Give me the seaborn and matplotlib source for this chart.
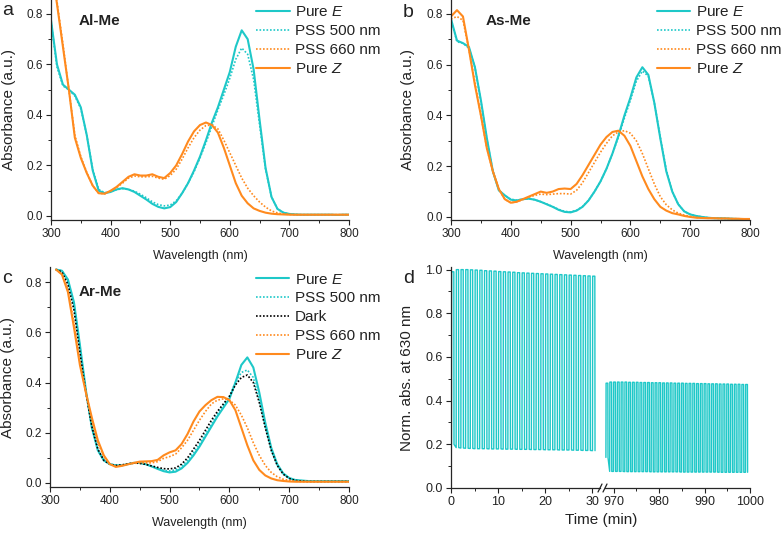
import matplotlib
matplotlib.use("Agg")
import matplotlib.pyplot as plt
from matplotlib.lines import Line2D
from matplotlib.ticker import MultipleLocator
import seaborn as sns

TEAL = "#1ec8c8"
ORANGE = "#ff8a1e"

# wavelengths (nm)
wl = list(range(300, 801, 10))
wl_c = list(range(310, 801, 10))

# ---- panel a: Al-Me ----
a_pure_e = [0.775, 0.60, 0.52, 0.50, 0.48, 0.43, 0.32, 0.18, 0.10, 0.09, 0.095,
            0.105, 0.11, 0.105, 0.095, 0.08, 0.065, 0.048, 0.036, 0.03, 0.035,
            0.055, 0.09, 0.13, 0.18, 0.235, 0.30, 0.37, 0.43, 0.50, 0.57,
            0.67, 0.735, 0.70, 0.58, 0.38, 0.19, 0.075, 0.028, 0.013, 0.008,
            0.006, 0.005, 0.005, 0.005, 0.005, 0.005, 0.005, 0.004, 0.005, 0.005]
a_pss500 = [0.77, 0.59, 0.515, 0.50, 0.475, 0.425, 0.32, 0.185, 0.105, 0.092, 0.096,
            0.104, 0.108, 0.105, 0.098, 0.086, 0.072, 0.056, 0.045, 0.04, 0.043,
            0.06, 0.09, 0.13, 0.175, 0.23, 0.29, 0.355, 0.42, 0.48, 0.545,
            0.62, 0.665, 0.64, 0.54, 0.36, 0.185, 0.075, 0.028, 0.013, 0.008,
            0.006, 0.005, 0.005, 0.005, 0.005, 0.005, 0.005, 0.004, 0.005, 0.005]
a_pss660 = [1.0, 0.85, 0.68, 0.50, 0.32, 0.235, 0.172, 0.12, 0.09, 0.088, 0.098,
            0.112, 0.13, 0.15, 0.158, 0.155, 0.155, 0.157, 0.15, 0.145, 0.16,
            0.185, 0.225, 0.27, 0.31, 0.34, 0.358, 0.36, 0.345, 0.30, 0.25,
            0.20, 0.15, 0.11, 0.08, 0.055, 0.035, 0.02, 0.012, 0.008, 0.006,
            0.005, 0.005, 0.005, 0.005, 0.005, 0.005, 0.005, 0.005, 0.005, 0.005]
a_pure_z = [1.0, 0.84, 0.67, 0.50, 0.31, 0.23, 0.17, 0.12, 0.09, 0.088, 0.10,
            0.115, 0.135, 0.155, 0.165, 0.16, 0.16, 0.165, 0.155, 0.15, 0.17,
            0.20, 0.245, 0.295, 0.335, 0.36, 0.37, 0.36, 0.33, 0.27, 0.20,
            0.13, 0.08, 0.05, 0.03, 0.02, 0.013, 0.009, 0.007, 0.006, 0.005,
            0.005, 0.005, 0.005, 0.005, 0.005, 0.005, 0.005, 0.005, 0.005, 0.005]

# ---- panel b: As-Me ----
b_pure_e = [0.78, 0.695, 0.685, 0.67, 0.59, 0.46, 0.31, 0.18, 0.105, 0.085, 0.068,
            0.065, 0.07, 0.072, 0.068, 0.06, 0.05, 0.04, 0.028, 0.02, 0.018,
            0.025, 0.04, 0.065, 0.10, 0.14, 0.19, 0.25, 0.32, 0.40, 0.47,
            0.55, 0.59, 0.56, 0.45, 0.31, 0.18, 0.10, 0.05, 0.022, 0.01,
            0.004, 0.0, -0.003, -0.005, -0.005, -0.006, -0.007, -0.008, -0.009, -0.01]
b_pss500 = [0.78, 0.69, 0.685, 0.665, 0.59, 0.455, 0.305, 0.18, 0.105, 0.085, 0.07,
            0.066, 0.07, 0.072, 0.068, 0.06, 0.051, 0.041, 0.03, 0.022, 0.02,
            0.026, 0.041, 0.066, 0.10, 0.14, 0.19, 0.25, 0.315, 0.39, 0.46,
            0.535, 0.575, 0.555, 0.45, 0.315, 0.185, 0.10, 0.05, 0.022, 0.01,
            0.004, 0.0, -0.003, -0.005, -0.005, -0.006, -0.007, -0.008, -0.008, -0.009]
b_pss660 = [0.78, 0.79, 0.775, 0.66, 0.53, 0.40, 0.27, 0.18, 0.11, 0.07, 0.056,
            0.06, 0.068, 0.078, 0.085, 0.09, 0.088, 0.09, 0.092, 0.092, 0.09,
            0.105, 0.135, 0.175, 0.215, 0.255, 0.29, 0.32, 0.335, 0.34, 0.33,
            0.30, 0.25, 0.19, 0.13, 0.08, 0.048, 0.028, 0.015, 0.007, 0.002,
            -0.002, -0.004, -0.005, -0.005, -0.006, -0.006, -0.007, -0.007, -0.008, -0.008]
b_pure_z = [0.79, 0.815, 0.79, 0.66, 0.52, 0.40, 0.27, 0.18, 0.11, 0.07, 0.056,
            0.06, 0.07, 0.08, 0.09, 0.10, 0.095, 0.10, 0.11, 0.112, 0.11,
            0.13, 0.165, 0.205, 0.245, 0.285, 0.315, 0.335, 0.34, 0.32, 0.28,
            0.22, 0.16, 0.11, 0.07, 0.04, 0.025, 0.015, 0.01, 0.004, 0.0,
            -0.003, -0.004, -0.005, -0.005, -0.006, -0.006, -0.007, -0.007, -0.008, -0.008]

# ---- panel c: Ar-Me ----
c_pure_e = [0.85, 0.845, 0.81, 0.72, 0.55, 0.37, 0.22, 0.13, 0.09, 0.075,
            0.07, 0.07, 0.075, 0.08, 0.08, 0.075, 0.066, 0.056, 0.047, 0.042,
            0.045, 0.058, 0.08, 0.11, 0.145, 0.185, 0.225, 0.265, 0.30, 0.335,
            0.40, 0.47, 0.50, 0.46, 0.36, 0.24, 0.14, 0.075, 0.038, 0.02,
            0.012, 0.01, 0.008, 0.007, 0.007, 0.007, 0.007, 0.007, 0.007, 0.007]
c_pss500 = [0.85, 0.845, 0.80, 0.71, 0.54, 0.365, 0.22, 0.13, 0.09, 0.075,
            0.07, 0.07, 0.075, 0.08, 0.08, 0.075, 0.066, 0.058, 0.05, 0.048,
            0.052, 0.066, 0.09, 0.12, 0.155, 0.195, 0.235, 0.275, 0.31, 0.345,
            0.40, 0.44, 0.45, 0.42, 0.33, 0.225, 0.13, 0.07, 0.036, 0.019,
            0.011, 0.009, 0.007, 0.007, 0.007, 0.007, 0.007, 0.007, 0.007, 0.007]
c_dark = [0.85, 0.84, 0.79, 0.69, 0.52, 0.36, 0.225, 0.135, 0.09, 0.075,
          0.07, 0.072, 0.076, 0.08, 0.078, 0.074, 0.068, 0.062, 0.057, 0.056,
          0.06, 0.075, 0.10, 0.135, 0.17, 0.21, 0.25, 0.285, 0.315, 0.345,
          0.39, 0.42, 0.43, 0.40, 0.32, 0.22, 0.13, 0.07, 0.035, 0.018,
          0.01, 0.008, 0.006, 0.006, 0.006, 0.006, 0.006, 0.006, 0.006, 0.006]
c_pss660 = [0.85, 0.83, 0.77, 0.64, 0.48, 0.36, 0.25, 0.16, 0.105, 0.075,
            0.066, 0.07, 0.075, 0.078, 0.08, 0.08, 0.08, 0.085, 0.098, 0.105,
            0.115, 0.14, 0.17, 0.21, 0.25, 0.285, 0.315, 0.33, 0.335, 0.33,
            0.31, 0.27, 0.22, 0.16, 0.11, 0.07, 0.042, 0.025, 0.015, 0.01,
            0.007, 0.005, 0.005, 0.005, 0.005, 0.005, 0.005, 0.005, 0.005, 0.005]
c_pure_z = [0.85, 0.83, 0.76, 0.62, 0.47, 0.36, 0.26, 0.17, 0.11, 0.075,
            0.064, 0.068, 0.074, 0.08, 0.085, 0.086, 0.087, 0.092, 0.11, 0.122,
            0.13, 0.155, 0.195, 0.245, 0.285, 0.31, 0.33, 0.343, 0.342, 0.33,
            0.29, 0.22, 0.15, 0.09, 0.052, 0.03, 0.018, 0.011, 0.008, 0.006,
            0.005, 0.005, 0.005, 0.005, 0.005, 0.005, 0.005, 0.005, 0.005, 0.005]

# ---- panel d: switching cycles, normalised absorbance at 630 nm ----
left_rise = [0.1, 1.1, 2.1, 3.1, 4.1, 5.1, 6.1, 7.1, 8.1, 9.1, 10.1, 11.1, 12.1,
             13.1, 14.1, 15.1, 16.1, 17.1, 18.1, 19.1, 20.1, 21.1, 22.1, 23.1,
             24.1, 25.1, 26.1, 27.1, 28.1, 29.1, 30.1]
left_peak = [0.99, 1.0, 1.0, 1.0, 0.999, 0.998, 0.997, 0.995, 0.994, 0.993, 0.991,
             0.99, 0.989, 0.988, 0.986, 0.985, 0.984, 0.983, 0.982, 0.981, 0.98,
             0.979, 0.978, 0.977, 0.976, 0.975, 0.974, 0.973, 0.972, 0.971, 0.97]
left_trough = [0.2, 0.185, 0.183, 0.182, 0.181, 0.18, 0.18, 0.18, 0.179, 0.179, 0.179,
               0.178, 0.178, 0.178, 0.177, 0.177, 0.177, 0.176, 0.176, 0.176, 0.175,
               0.175, 0.175, 0.174, 0.174, 0.174, 0.173, 0.173, 0.172, 0.172, 0.171]
right_rise = [968.3, 969.13, 969.96, 970.79, 971.62, 972.45, 973.28, 974.11, 974.94,
              975.77, 976.6, 977.43, 978.26, 979.09, 979.92, 980.75, 981.58, 982.41,
              983.24, 984.07, 984.9, 985.73, 986.56, 987.39, 988.22, 989.05, 989.88,
              990.71, 991.54, 992.37, 993.2, 994.03, 994.86, 995.69, 996.52, 997.35,
              998.18, 999.01]
right_peak = [0.48, 0.485, 0.485, 0.485, 0.485, 0.485, 0.484, 0.484, 0.484, 0.483,
              0.483, 0.483, 0.482, 0.482, 0.482, 0.481, 0.481, 0.481, 0.48, 0.48,
              0.48, 0.479, 0.479, 0.479, 0.478, 0.478, 0.478, 0.477, 0.477, 0.477,
              0.476, 0.476, 0.476, 0.475, 0.475, 0.475, 0.474, 0.474]
right_trough = [0.14, 0.076, 0.076, 0.076, 0.076, 0.075, 0.075, 0.075, 0.075, 0.075,
                0.075, 0.075, 0.074, 0.074, 0.074, 0.074, 0.074, 0.074, 0.074, 0.074,
                0.073, 0.073, 0.073, 0.073, 0.073, 0.073, 0.073, 0.073, 0.073, 0.073,
                0.072, 0.072, 0.072, 0.072, 0.072, 0.072, 0.072, 0.072]


def cycles(rises, peaks, troughs, high):
    # turn each switching cycle into its on/off trace
    t, y = [], []
    for t0, p, q in zip(rises, peaks, troughs):
        t += [t0, t0 + 0.04, t0 + high, t0 + high + 0.04]
        y += [q, p, p, q]
    return t, y


sns.set_style("ticks")
plt.rcParams['font.family'] = ['Liberation Sans', 'DejaVu Sans']
plt.rcParams['mathtext.fontset'] = 'custom'
plt.rcParams['mathtext.rm'] = 'Liberation Sans'
plt.rcParams['mathtext.it'] = 'Liberation Sans:italic'
plt.rcParams['axes.linewidth'] = 0.9
plt.rcParams['text.color'] = '#222222'
plt.rcParams['axes.labelcolor'] = '#222222'

fig = plt.figure(figsize=(7.82, 5.33), dpi=100)

W, H = 782, 533


def px_axes(x0, x1, ytop, ybot):
    return fig.add_axes([x0 / W, 1 - ybot / H, (x1 - x0) / W, (ybot - ytop) / H])


def style_axis(ax, size=8.5):
    sns.despine(ax=ax)
    ax.tick_params(which='major', direction='out', length=3.5, width=0.8,
                   labelsize=size, colors='#222222', pad=2.5)
    ax.tick_params(which='minor', direction='out', length=2, width=0.7)


pe = r"Pure $\mathit{E}$"
pz = r"Pure $\mathit{Z}$"
dot = (0, (1, 1.1))

panels = [
    ("Al-Me", wl, [(pe, a_pure_e, TEAL, '-'), ("PSS 500 nm", a_pss500, TEAL, dot),
                   ("PSS 660 nm", a_pss660, ORANGE, dot), (pz, a_pure_z, ORANGE, '-')],
     (51, 349, 0, 220), (-0.016, 0.855), 0.094, 0.905, -0.118),
    ("As-Me", wl, [(pe, b_pure_e, TEAL, '-'), ("PSS 500 nm", b_pss500, TEAL, dot),
                   ("PSS 660 nm", b_pss660, ORANGE, dot), (pz, b_pure_z, ORANGE, '-')],
     (451, 750, 0, 220), (-0.012, 0.855), 0.117, 0.905, -0.122),
    ("Ar-Me", wl_c, [(pe, c_pure_e, TEAL, '-'), ("PSS 500 nm", c_pss500, TEAL, dot),
                     ("Dark", c_dark, 'black', dot), ("PSS 660 nm", c_pss660, ORANGE, dot),
                     (pz, c_pure_z, ORANGE, '-')],
     (50, 349, 267, 487), (-0.016, 0.86), 0.097, 0.886, -0.116),
]

for name, x, curves, box, ylim, tx, ty, ylab_x in panels:
    ax = px_axes(*box)
    for label, y, color, ls in curves:
        lw = 1.5 if ls == '-' else 1.2
        sns.lineplot(x=x, y=y, ax=ax, color=color, linestyle=ls, linewidth=lw,
                     label=label, estimator=None, sort=False)
    ax.set_xlim(300, 800)
    ax.set_ylim(*ylim)
    ax.xaxis.set_major_locator(MultipleLocator(100))
    ax.xaxis.set_minor_locator(MultipleLocator(50))
    ax.yaxis.set_major_locator(MultipleLocator(0.2))
    ax.yaxis.set_minor_locator(MultipleLocator(0.1))
    ax.yaxis.set_major_formatter(plt.FormatStrFormatter('%.1f'))
    style_axis(ax)
    ax.set_xlabel("Wavelength (nm)", fontsize=9, labelpad=7)
    ax.set_ylabel("Absorbance (a.u.)", fontsize=11)
    ax.yaxis.set_label_coords(ylab_x, 0.5)
    ax.text(tx, ty, name, transform=ax.transAxes, fontsize=11, fontweight='bold',
            va='center', ha='left')
    ax.legend(loc='upper left', bbox_to_anchor=(0.688, 0.975), frameon=False,
              fontsize=11, handlelength=2.2, handletextpad=0.35, labelspacing=0.32,
              borderpad=0, borderaxespad=0)

# ---- panel d with broken time axis ----
axl = px_axes(451, 600, 267, 488)
axr = px_axes(605, 750, 267, 488)
tl, yl = cycles(left_rise, left_peak, left_trough, 0.5)
tr, yr = cycles(right_rise, right_peak, right_trough, 0.42)
sns.lineplot(x=tl, y=yl, ax=axl, color=TEAL, linewidth=1.0, estimator=None, sort=False)
sns.lineplot(x=tr, y=yr, ax=axr, color=TEAL, linewidth=1.0, estimator=None, sort=False)
axl.set_xlim(0, 31.7)
axr.set_xlim(968.1, 1000)
for ax in (axl, axr):
    ax.set_ylim(0, 1.012)
    ax.xaxis.set_major_locator(MultipleLocator(10))
    ax.xaxis.set_minor_locator(MultipleLocator(5))
    style_axis(ax, size=9)
axl.yaxis.set_major_locator(MultipleLocator(0.2))
axl.yaxis.set_minor_locator(MultipleLocator(0.1))
axl.yaxis.set_major_formatter(plt.FormatStrFormatter('%.1f'))
axl.set_ylabel("Norm. abs. at 630 nm", fontsize=11)
axl.yaxis.set_label_coords(-0.25, 0.5)
axr.spines['left'].set_visible(False)
axr.tick_params(axis='y', which='both', left=False, labelleft=False)
fig.text(601 / W, 1 - 513 / H, "Time (min)", fontsize=11, ha='center', va='top',
         color='#222222')

# break marks on the time axis
for x0 in (598, 603):
    fig.add_artist(Line2D([x0 / W, (x0 + 4) / W], [1 - 492 / H, 1 - 484 / H],
                          color='#222222', linewidth=0.9))

# panel letters
for letter, x, y in [('a', 2, 15), ('b', 403, 17), ('c', 2, 283), ('d', 403, 283)]:
    fig.text(x / W, 1 - y / H, letter, fontsize=14, va='baseline', ha='left',
             color='#222222')

fig.savefig("out.png", dpi=100)
